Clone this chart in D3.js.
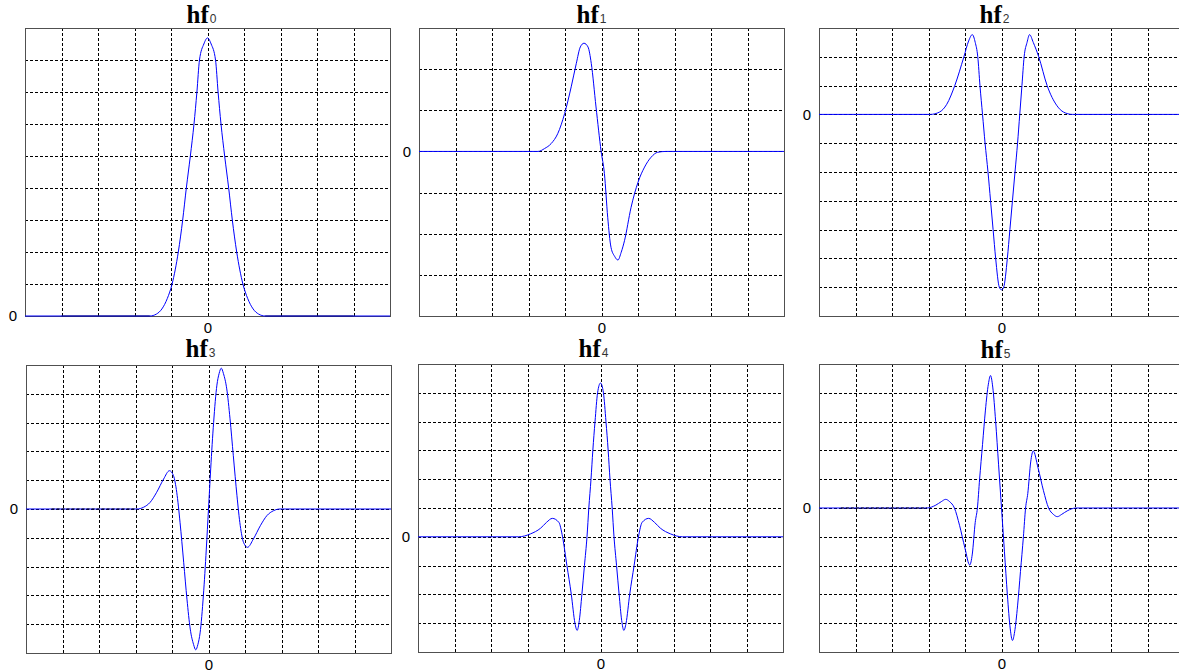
<!DOCTYPE html>
<html>
<head>
<meta charset="utf-8">
<script src="https://cdn.jsdelivr.net/npm/d3@7"></script>
<style>
    body { margin: 0; background: #fff; }
    svg { display: block; }
    .grid line { stroke: #000; stroke-dasharray: 3,2; shape-rendering: crispEdges; }
    .grid path, .lab path { display: none; }
    .lab text { font-family: "Liberation Sans", Arial, sans-serif; font-size: 15px; fill: #000; }
</style>
</head>
<body>
<svg id="chart" width="1179" height="672"></svg>
<script>
// x values are in grid divisions from the centre, y values in grid divisions from 0
var hf0X = [-5, -1.58, -1.4, -1.25, -1.1, -0.97, -0.8, -0.68, -0.58, -0.47, -0.37, -0.29, -0.22, -0.1, 0,
            0.1, 0.22, 0.29, 0.37, 0.47, 0.58, 0.68, 0.8, 0.97, 1.1, 1.25, 1.4, 1.58, 5];
var hf0Y = [0, 0, 0.06, 0.22, 0.55, 1, 2, 3, 4, 5, 6, 7, 8, 8.5, 8.69,
            8.5, 8, 7, 6, 5, 4, 3, 2, 1, 0.55, 0.22, 0.06, 0, 0];

var hf1X = [-5, -1.74, -1.56, -1.38, -1.2, -1.01, -0.83, -0.69, -0.58, -0.48, -0.37, -0.28, -0.15, -0.01,
            0.08, 0.17, 0.26, 0.36, 0.45, 0.54, 0.63, 0.81, 1.0, 1.18, 1.36, 1.54, 1.77, 5];
var hf1Y = [0, 0, 0.07, 0.19, 0.43, 0.92, 1.57, 2.14, 2.54, 2.63, 2.54, 2.14, 1.08, 0,
            -0.54, -1.6, -2.33, -2.55, -2.64, -2.45, -2.17, -1.36, -0.75, -0.38, -0.14, -0.02, 0, 0];

var hf2X = [-5, -1.95, -1.7, -1.5, -1.28, -1.03, -0.9, -0.8, -0.72, -0.65, -0.59, -0.52, -0.45, -0.37, -0.3,
            -0.23, -0.16, -0.06, 0, 0.06, 0.16, 0.23, 0.3, 0.37, 0.44, 0.5, 0.56, 0.62, 0.7, 0.77, 0.87,
            1.02, 1.25, 1.52, 1.7, 1.94, 5];
var hf2Y = [0, 0, 0.08, 0.35, 1, 2, 2.55, 2.77, 2.5, 2, 1, 0, -1, -2, -3,
            -4, -5, -6, -6.09, -6, -5, -4, -3, -2, -1, 0, 1, 2, 2.5, 2.77, 2.5,
            2, 1, 0.3, 0.08, 0, 0];

var hf3X = [-5, -1.96, -1.78, -1.6, -1.42, -1.23, -1.07, -0.96, -0.87, -0.78, -0.68, -0.59, -0.5, -0.41,
            -0.35, -0.29, -0.23, -0.14, -0.06, 0, 0.06, 0.14, 0.23, 0.29, 0.35, 0.41, 0.5, 0.59, 0.68,
            0.78, 0.87, 0.96, 1.07, 1.23, 1.42, 1.6, 1.78, 1.96, 5];
var hf3Y = [0, 0, 0.06, 0.23, 0.58, 1.04, 1.33, 1.16, 0.58, -0.46, -1.85, -3.13, -4.17, -4.7,
            -4.89, -4.7, -4.3, -3.0, -1.39, 0, 1.39, 3.0, 4.3, 4.7, 4.89, 4.7, 4.17, 3.13, 1.85,
            0.46, -0.58, -1.16, -1.33, -1.04, -0.58, -0.23, -0.06, 0, 0];

var hf4X = [-5, -2.24, -1.92, -1.64, -1.48, -1.32, -1.14, -1.04, -0.92, -0.8, -0.7, -0.64, -0.58, -0.51,
            -0.44, -0.37, -0.32, -0.26, -0.21, -0.15, -0.08, 0, 0.08, 0.15, 0.21, 0.26, 0.32, 0.37, 0.44,
            0.51, 0.58, 0.64, 0.7, 0.8, 0.92, 1.04, 1.14, 1.32, 1.48, 1.64, 1.92, 2.24, 5];
var hf4Y = [0, 0, 0.1, 0.3, 0.5, 0.64, 0.5, 0, -1, -2, -3.0, -3.25, -2.9, -2,
            -1, 0, 1, 2, 3, 4, 5.0, 5.34, 5.0, 4, 3, 2, 1, 0, -1,
            -2, -2.9, -3.25, -3.0, -2, -1, 0, 0.5, 0.64, 0.5, 0.3, 0.1, 0, 0];

var hf5X = [-5, -2.04, -1.8, -1.65, -1.53, -1.42, -1.29, -1.15, -1.0, -0.87, -0.8, -0.72, -0.66, -0.6,
            -0.52, -0.44, -0.36, -0.3, -0.24, -0.16, -0.08, 0, 0.08, 0.16, 0.24, 0.3, 0.36, 0.44, 0.52,
            0.6, 0.66, 0.72, 0.8, 0.87, 1.0, 1.15, 1.29, 1.42, 1.53, 1.65, 1.8, 2.04, 5];
var hf5Y = [0, 0, 0.1, 0.22, 0.3, 0.22, 0, -0.6, -1.4, -1.98, -1.6, -0.5, 0, 1.0,
            2.2, 3.4, 4.3, 4.6, 4.2, 3.0, 1.5, 0, -1.5, -3.0, -4.2, -4.6, -4.3, -3.4, -2.2,
            -1.0, 0, 0.5, 1.6, 1.98, 1.4, 0.6, 0, -0.22, -0.3, -0.22, -0.1, 0, 0];

// stretches of the zero line that print darker in the original
var hf0Dark = [[-4, -1.58], [1.58, 4]];
var hf3Dark = [[-4.3, -1.96]];
var hf5Dark = [[-4.4, -2.04]];

var panels = [
    {sub: "0", xs: hf0X, ys: hf0Y, dark: hf0Dark, darkSolid: true,
     left: 25, top: 28, right: 390, bottom: 316, yDomain: [0, 9], titleDx: -21, titleY: 23},
    {sub: "1", xs: hf1X, ys: hf1Y, dark: [],
     left: 419, top: 28, right: 784, bottom: 316, yDomain: [-4, 3], titleDx: -25, titleY: 23},
    {sub: "2", xs: hf2X, ys: hf2Y, dark: [],
     left: 819, top: 28, right: 1184, bottom: 316, yDomain: [-7, 3], titleDx: -22, titleY: 23},
    {sub: "3", xs: hf3X, ys: hf3Y, dark: hf3Dark,
     left: 26, top: 365, right: 391, bottom: 653, yDomain: [-5, 5], titleDx: -23, titleY: 357},
    {sub: "4", xs: hf4X, ys: hf4Y, dark: [],
     left: 418, top: 364, right: 783, bottom: 652, yDomain: [-4, 6], titleDx: -22, titleY: 357},
    {sub: "5", xs: hf5X, ys: hf5Y, dark: hf5Dark,
     left: 819, top: 364, right: 1184, bottom: 652, yDomain: [-5, 5], titleDx: -21, titleY: 358}
];

var svg = d3.select("#chart");

panels.forEach(function(p) {
    var g = svg.append("g");
    var h = p.bottom - p.top;
    var w = p.right - p.left;

    var x = d3.scaleLinear().domain([-5, 5]).range([p.left, p.right]);
    var y = d3.scaleLinear().domain(p.yDomain).range([p.bottom, p.top]);

    // dashed grid
    g.append("g")
        .attr("class", "grid")
        .attr("transform", "translate(0," + p.bottom + ")")
        .call(d3.axisBottom(x).tickValues(d3.range(-4, 5)).tickSize(-h).tickFormat(""));

    g.append("g")
        .attr("class", "grid")
        .attr("transform", "translate(" + p.left + ",0)")
        .call(d3.axisLeft(y).tickValues(d3.range(p.yDomain[0] + 1, p.yDomain[1])).tickSize(-w).tickFormat(""));

    // frame
    g.append("rect")
        .attr("x", p.left + 0.5)
        .attr("y", p.top + 0.5)
        .attr("width", w)
        .attr("height", h)
        .attr("fill", "none")
        .attr("stroke", "#505050")
        .attr("stroke-width", 1);

    var pts = p.xs.map(function(v, i) { return [v, p.ys[i]]; });

    var line = d3.line()
        .curve(d3.curveMonotoneX)
        .x(function(d) { return x(d[0]); })
        .y(function(d) { return y(d[1]); });

    g.append("path")
        .datum(pts)
        .attr("fill", "none")
        .attr("stroke", "#0000ff")
        .attr("stroke-width", 1)
        .attr("d", line);

    g.selectAll(".dark")
        .data(p.dark)
        .enter()
        .append("line")
        .attr("class", "dark")
        .attr("x1", function(d) { return x(d[0]); })
        .attr("x2", function(d) { return x(d[1]); })
        .attr("y1", y(0))
        .attr("y2", y(0))
        .attr("stroke", p.darkSolid ? "#10107a" : "#000")
        .attr("stroke-width", 1)
        .attr("stroke-dasharray", p.darkSolid ? null : "3,2");

    // the single "0" labels
    var fmt = d3.format("d");
    g.append("g")
        .attr("class", "lab")
        .attr("transform", "translate(0," + p.bottom + ")")
        .call(d3.axisBottom(x).tickValues([0]).tickSize(0).tickPadding(6).tickFormat(fmt));

    g.append("g")
        .attr("class", "lab")
        .attr("transform", "translate(" + p.left + ",0)")
        .call(d3.axisLeft(y).tickValues([0]).tickSize(0).tickPadding(8).tickFormat(fmt));

    var t = g.append("text")
        .attr("x", x(0) + p.titleDx)
        .attr("y", p.titleY)
        .attr("font-family", "'Liberation Serif', 'Times New Roman', serif")
        .attr("font-weight", "bold")
        .attr("font-size", "25px")
        .attr("fill", "#000")
        .text("hf");

    t.append("tspan")
        .attr("dx", 1)
        .attr("font-family", "'Liberation Sans', Arial, sans-serif")
        .attr("font-weight", "normal")
        .attr("font-size", "12px")
        .attr("fill", "#333")
        .text(p.sub);
});
</script>
</body>
</html>
